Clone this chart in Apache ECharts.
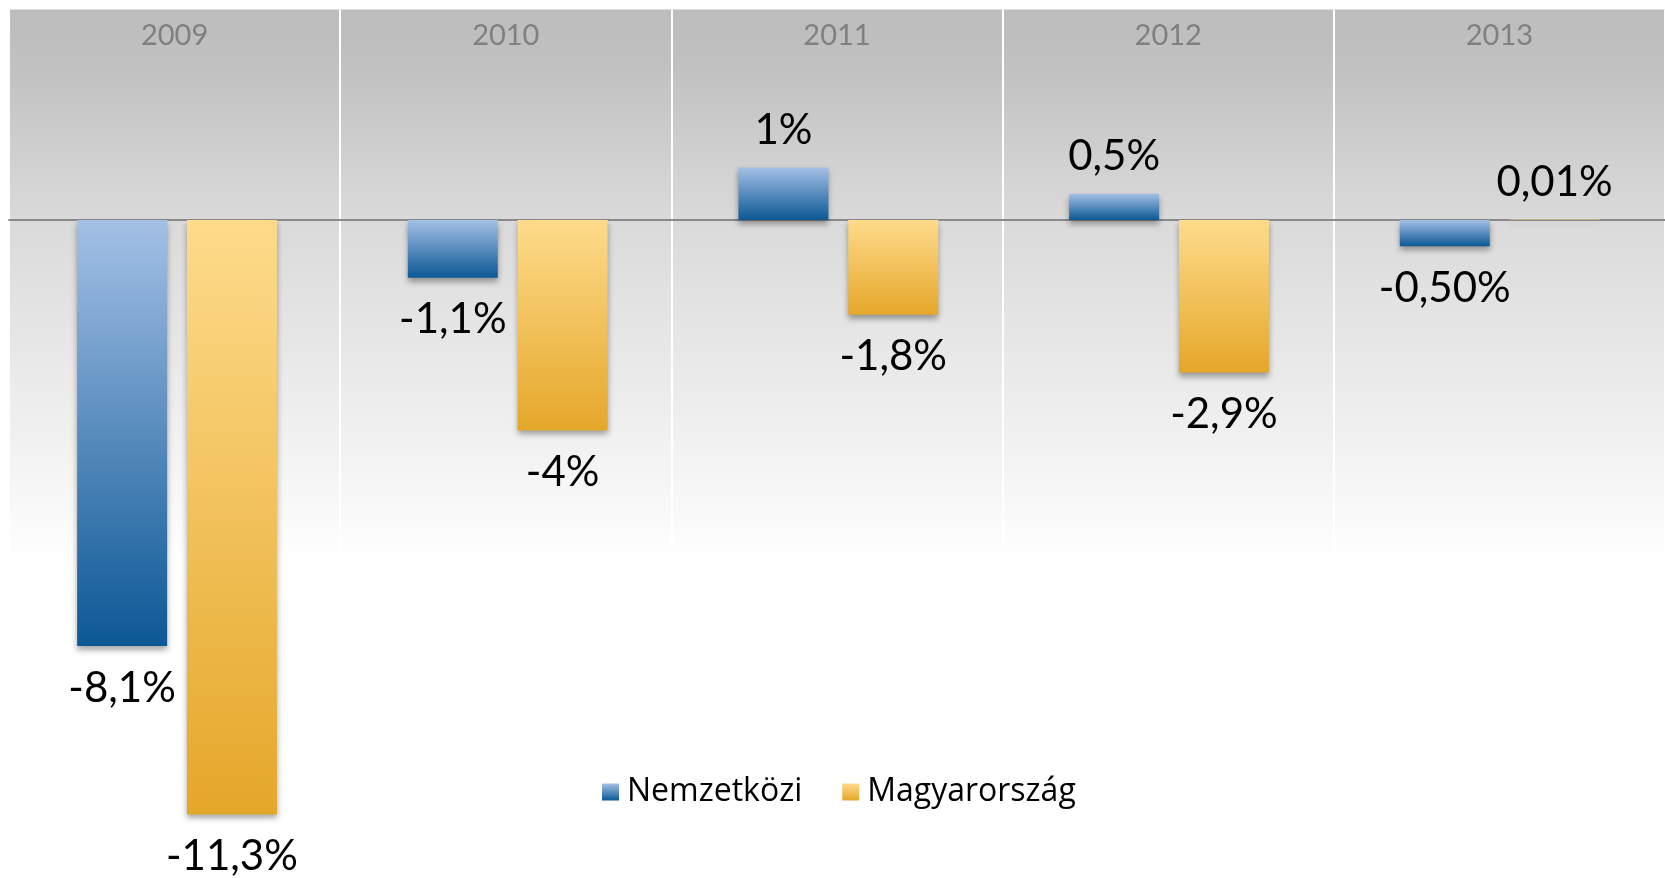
<!DOCTYPE html>
<html>
<head>
<meta charset="utf-8">
<script src="https://cdn.jsdelivr.net/npm/echarts@6/dist/echarts.min.js"></script>
<style>
  html, body { margin: 0; padding: 0; background: #fff; }
  #chart { width: 1665px; height: 878px; }
</style>
</head>
<body>
<div id="chart"></div>
<script>
const years = ['2009', '2010', '2011', '2012', '2013']
const nemzetkozi = [-8.1, -1.1, 1, 0.5, -0.5]
const magyarorszag = [-11.3, -4, -1.8, -2.9, 0.01]
const nemzetkoziLabels = ['-8,1%', '-1,1%', '1%', '0,5%', '-0,50%']
const magyarorszagLabels = ['-11,3%', '-4%', '-1,8%', '-2,9%', '0,01%']

const chart = echarts.init(document.getElementById('chart'))

const grad = (a, b) => new echarts.graphic.LinearGradient(0, 0, 0, 1, [
  { offset: 0, color: a },
  { offset: 1, color: b }
])

// label above for positive, below for negative
const withLabels = (vals, labels) => vals.map((v, i) => ({
  value: v,
  label: {
    position: v >= 0 ? 'top' : 'bottom',
    distance: v >= 0 ? 16 : 21,
    formatter: labels[i]
  }
}))

const barLabel = {
  show: true,
  color: '#000',
  fontFamily: 'Lato',
  fontSize: 42
}

const option = {
  animation: false,
  grid: [
    // background + dividers + zero line
    {
      left: 9,
      right: 0,
      top: 9.6,
      bottom: 26.8,
      show: true,
      borderWidth: 0,
      backgroundColor: new echarts.graphic.LinearGradient(0, 0, 0, 1, [
        { offset: 0, color: '#bdbdbd' },
        { offset: 0.06, color: '#c0c0c0' },
        { offset: 0.25, color: '#dadada' },
        { offset: 0.49, color: '#efefef' },
        { offset: 0.66, color: '#ffffff' },
        { offset: 1, color: '#ffffff' }
      ])
    },
    // bars, nudged a little to the right like the original
    {
      left: 11.7,
      right: -2.7,
      top: 9.6,
      bottom: 26.8
    }
  ],
  legend: {
    left: 597,
    top: 771,
    itemWidth: 17,
    itemHeight: 17,
    itemGap: 40,
    icon: 'rect',
    itemStyle: { shadowBlur: 0, shadowOffsetY: 0 },
    textStyle: { fontFamily: 'Open Sans', fontSize: 32, color: '#000', padding: [0, 0, 0, 3] },
    data: ['Nemzetközi', 'Magyarország']
  },
  xAxis: [
    {
      type: 'category',
      gridIndex: 0,
      data: years,
      position: 'top',
      axisLine: { show: false, onZero: false },
      axisTick: { show: false },
      axisLabel: {
        inside: true,
        margin: 12,
        color: '#808080',
        fontFamily: 'Lato',
        fontSize: 29
      },
      splitLine: { show: true, lineStyle: { color: '#ffffff', width: 2 } }
    },
    {
      type: 'category',
      gridIndex: 0,
      data: years,
      position: 'bottom',
      axisLine: { show: true, onZero: true, lineStyle: { color: '#8a8a8a', width: 2 } },
      axisTick: { show: false },
      axisLabel: { show: false },
      splitLine: { show: false }
    },
    {
      type: 'category',
      gridIndex: 1,
      data: years,
      show: false
    }
  ],
  yAxis: [
    { type: 'value', gridIndex: 0, min: -12, max: 4, show: false, splitLine: { show: false } },
    { type: 'value', gridIndex: 1, min: -12, max: 4, show: false, splitLine: { show: false } }
  ],
  series: [
    {
      name: 'Nemzetközi',
      type: 'bar',
      xAxisIndex: 2,
      yAxisIndex: 1,
      barWidth: 90,
      barGap: '22%',
      data: withLabels(nemzetkozi, nemzetkoziLabels),
      label: barLabel,
      itemStyle: {
        color: grad('#a4c0e6', '#0c5895'),
        shadowBlur: 6,
        shadowOffsetY: 4,
        shadowColor: 'rgba(0,0,0,0.35)'
      }
    },
    {
      name: 'Magyarország',
      type: 'bar',
      xAxisIndex: 2,
      yAxisIndex: 1,
      barWidth: 90,
      data: withLabels(magyarorszag, magyarorszagLabels),
      label: barLabel,
      itemStyle: {
        color: grad('#fedb8b', '#e5a72a'),
        shadowBlur: 6,
        shadowOffsetY: 4,
        shadowColor: 'rgba(0,0,0,0.35)'
      }
    }
  ]
}

chart.setOption(option)
</script>
</body>
</html>
